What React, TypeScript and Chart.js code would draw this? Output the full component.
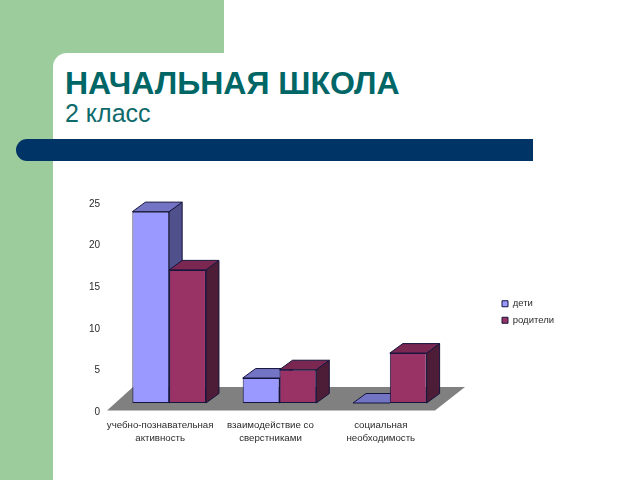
import React, { useEffect, useRef } from "react";
import { Chart, registerables } from "chart.js";

Chart.register(...registerables);

const categories: string[][] = [
  ["учебно-познавательная", "активность"],
  ["взаимодействие со", "сверстниками"],
  ["социальная", "необходимость"],
];
const children = [23, 3, 0];
const parents = [16, 4, 6];
const seriesNames = ["дети", "родители"];
const frontColors = ["#9999ff", "#993366"];
const topColors = ["#7474c4", "#7a2752"];
const sideColors = ["#50508c", "#4d1c37"];
const edge = "#14143c";
const font = "'Liberation Sans', Arial, sans-serif";

const depthX = 13;
const depthY = -9.5;

const poly = (ctx: CanvasRenderingContext2D, pts: number[][], fill: string, stroke?: string) => {
  ctx.beginPath();
  pts.forEach((p, i) => (i ? ctx.lineTo(p[0], p[1]) : ctx.moveTo(p[0], p[1])));
  ctx.closePath();
  ctx.fillStyle = fill;
  ctx.fill();
  if (stroke) {
    ctx.strokeStyle = stroke;
    ctx.lineWidth = 1;
    ctx.stroke();
  }
};

const extrude = {
  id: "extrude",
  beforeDatasetsDraw(chart: any) {
    const { ctx, chartArea: a } = chart;
    ctx.save();
    poly(ctx, [
      [a.left - 7, a.bottom + 7.5],
      [a.right - 10, a.bottom + 7.5],
      [a.right + 20, a.bottom - 16],
      [a.left + 19, a.bottom - 16],
    ], "#808080");
    chart.data.datasets.forEach((_: any, d: number) => {
      chart.getDatasetMeta(d).data.forEach((bar: any) => {
        const l = bar.x - bar.width / 2;
        const r = bar.x + bar.width / 2;
        const t = bar.y;
        const b = bar.base;
        if (b - t > 0.5) {
          poly(ctx, [[r, t], [r + depthX, t + depthY], [r + depthX, b + depthY], [r, b]], sideColors[d], edge);
        }
        poly(ctx, [[l, t], [l + depthX, t + depthY], [r + depthX, t + depthY], [r, t]], topColors[d], edge);
      });
    });
    ctx.restore();
  },
};

const placeLegend = {
  id: "placeLegend",
  afterUpdate(chart: any) {
    const lg = chart.legend;
    const dx = 502 - lg.legendHitBoxes[0].left;
    const dy = 299 - lg.legendHitBoxes[0].top;
    lg.legendHitBoxes.forEach((h: any) => {
      h.left += dx;
      h.top += dy;
    });
    lg.left += dx;
    lg.right += dx;
    lg.top += dy;
    lg.bottom += dy;
  },
};

export default function App() {
  const ref = useRef<HTMLCanvasElement>(null);
  useEffect(() => {
    const chart = new Chart(ref.current!, {
      type: "bar",
      data: {
        labels: categories,
        datasets: [
          { label: seriesNames[0], data: children, backgroundColor: frontColors[0], borderColor: edge, borderWidth: 1, borderSkipped: false },
          { label: seriesNames[1], data: parents, backgroundColor: frontColors[1], borderColor: edge, borderWidth: 1, borderSkipped: false },
        ],
      },
      plugins: [extrude, placeLegend],
      options: {
        responsive: false,
        animation: false,
        layout: { padding: { left: 0, right: 126, top: 195, bottom: 27 } },
        datasets: { bar: { barPercentage: 1, categoryPercentage: 0.667 } },
        scales: {
          x: {
            grid: { display: false },
            border: { display: false },
            afterFit: (s: any) => { s.height = 50; },
            ticks: {
              autoSkip: false,
              maxRotation: 0,
              minRotation: 0,
              padding: 8,
              labelOffset: -9,
              color: "#2a2a2a",
              font: { family: font, size: 9.7, lineHeight: 1.3 },
            },
          },
          y: {
            min: 0,
            max: 25,
            grid: { display: false },
            border: { display: false },
            afterFit: (s: any) => { s.width = 114; },
            ticks: {
              stepSize: 5,
              padding: 6,
              labelOffset: 9,
              color: "#2a2a2a",
              font: { family: font, size: 10 },
            },
          },
        },
        plugins: {
          tooltip: { enabled: false },
          legend: {
            position: "right",
            labels: {
              boxWidth: 6,
              boxHeight: 6,
              padding: 7,
              color: "#2a2a2a",
              font: { family: font, size: 9.5 },
            },
          },
        },
      },
    } as any);
    return () => chart.destroy();
  }, []);

  return (
    <div style={{ position: "absolute", left: 0, top: 0, width: 640, height: 480, overflow: "hidden", background: "#fff", fontFamily: font }}>
      <div style={{ position: "absolute", left: 0, top: 0, width: 224, height: 480, background: "#9ccc9c" }} />
      <div style={{ position: "absolute", left: 53, top: 53, width: 587, height: 427, background: "#fff", borderTopLeftRadius: 14 }} />
      <div style={{ position: "absolute", left: 16, top: 139, width: 517, height: 22, background: "#003366", borderTopLeftRadius: 11, borderBottomLeftRadius: 11 }} />
      <div style={{ position: "absolute", left: 65, top: 66, fontSize: 32, fontWeight: 700, lineHeight: "34px", color: "#006666", whiteSpace: "nowrap" }}>НАЧАЛЬНАЯ ШКОЛА</div>
      <div style={{ position: "absolute", left: 65, top: 99, fontSize: 25, lineHeight: "28px", color: "#0f6b6b", whiteSpace: "nowrap" }}>2 класс</div>
      <canvas ref={ref} width={640} height={480} style={{ position: "absolute", left: 0, top: 0, display: "block" }} />
    </div>
  );
}
